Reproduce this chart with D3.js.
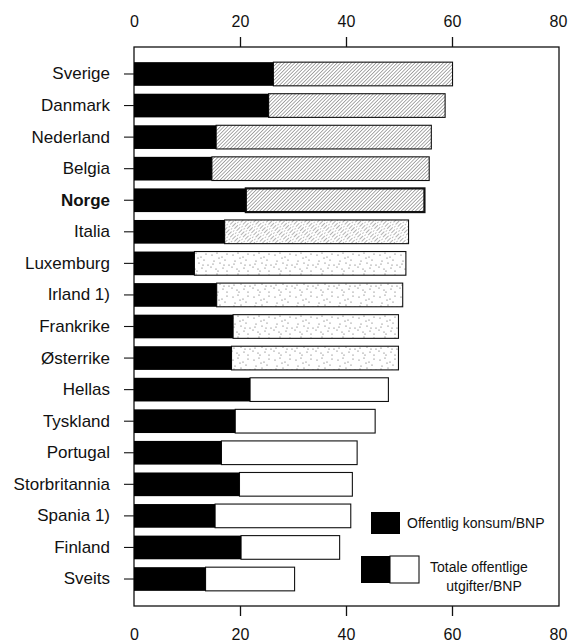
<!DOCTYPE html>
<html>
<head>
<meta charset="utf-8">
<script src="https://cdn.jsdelivr.net/npm/d3@7"></script>
<style>
  html, body { margin: 0; padding: 0; background: #fff; }
  svg { display: block; }
  text { font-family: "Liberation Sans", Arial, Helvetica, sans-serif; fill: #111; }
</style>
</head>
<body>
<svg id="chart" width="571" height="643"></svg>
<script>
// ---- data ----
const countries = ["Sverige","Danmark","Nederland","Belgia","Norge","Italia","Luxemburg","Irland 1)","Frankrike","Østerrike","Hellas","Tyskland","Portugal","Storbritannia","Spania 1)","Finland","Sveits"];
const konsum  = [26.3, 25.4, 15.5, 14.7, 21.1, 17.1, 11.4, 15.6, 18.7, 18.4, 21.9, 19.1, 16.5, 19.9, 15.3, 20.2, 13.5];
const totale  = [60.1, 58.7, 56.1, 55.7, 54.8, 51.8, 51.3, 50.7, 49.9, 49.9, 48.0, 45.5, 42.1, 41.2, 40.9, 38.8, 30.3];
const xTicks  = [0, 20, 40, 60, 80];
const legendLabels = ["Offentlig konsum/BNP", ["Totale offentlige", "utgifter/BNP"]];
const highlight = "Norge";

// ---- layout ----
const svg = d3.select("#chart");
const mLeft = 134, mRight = 558, mTop = 47, mBottom = 606;

const x = d3.scaleLinear().domain([0, 80]).range([mLeft, mRight]);
const y = d3.scaleBand().domain(countries).range([mTop, mBottom]).paddingInner(0.25).paddingOuter(0.48);

// ---- patterns ----
const defs = svg.append("defs");
const hs = 2.5;
const hatch = defs.append("pattern").attr("id", "hatch").attr("patternUnits", "userSpaceOnUse")
  .attr("width", hs).attr("height", hs).attr("patternTransform", "rotate(45)");
hatch.append("rect").attr("width", hs).attr("height", hs).attr("fill", "#fff");
hatch.append("line").attr("x1", 0).attr("y1", 0).attr("x2", 0).attr("y2", hs)
  .attr("stroke", "#444").attr("stroke-width", 0.9);

const dotPos = [[2,3],[7,1],[12,5],[17,2],[4,9],[10,11],[15,8],[19,13],[1,15],[6,17],[13,16],[17,19],[9,6],[3,12],[14,13],[8,19]];
const dots = defs.append("pattern").attr("id", "dots").attr("patternUnits", "userSpaceOnUse")
  .attr("width", 21).attr("height", 21);
dots.append("rect").attr("width", 21).attr("height", 21).attr("fill", "#fff");
dots.selectAll("circle").data(dotPos).join("circle")
  .attr("cx", d => d[0]).attr("cy", d => d[1]).attr("r", 0.6).attr("fill", "#555");

const mix = defs.append("pattern").attr("id", "mix").attr("patternUnits", "userSpaceOnUse")
  .attr("width", 3).attr("height", 9).attr("patternTransform", "rotate(45)");
mix.append("rect").attr("width", 3).attr("height", 9).attr("fill", "#fff");
mix.append("line").attr("x1", 0).attr("y1", 0).attr("x2", 0).attr("y2", 5)
  .attr("stroke", "#555").attr("stroke-width", 0.9);
mix.append("circle").attr("cx", 1.5).attr("cy", 7).attr("r", 0.5).attr("fill", "#666");

function fillFor(i) {
  if (i < 5) return "url(#hatch)";
  if (i === 5) return "url(#mix)";
  if (i < 10) return "url(#dots)";
  return "#fff";
}

// ---- frame ----
svg.append("rect").attr("x", mLeft).attr("y", mTop).attr("width", mRight + 1 - mLeft).attr("height", mBottom - mTop)
  .attr("fill", "none").attr("stroke", "#111").attr("stroke-width", 1.3);

// ---- bars ----
const rows = countries.map((c, i) => ({c, i, k: konsum[i], t: totale[i]}));
const g = svg.append("g");
g.selectAll("rect.tot").data(rows).join("rect").attr("class", "tot")
  .attr("x", d => x(d.k)).attr("y", d => y(d.c))
  .attr("width", d => x(d.t) - x(d.k)).attr("height", y.bandwidth())
  .attr("fill", d => fillFor(d.i)).attr("stroke", "#111")
  .attr("stroke-width", d => d.c === highlight ? 2.2 : 1.1);
g.selectAll("rect.kon").data(rows).join("rect").attr("class", "kon")
  .attr("x", x(0)).attr("y", d => y(d.c))
  .attr("width", d => x(d.k) - x(0)).attr("height", y.bandwidth())
  .attr("fill", "#000");

// ---- axes ----
const axTop = d3.axisTop(x).tickValues(xTicks).tickSize(10).tickPadding(10).tickFormat(d3.format("d"));
const axBot = d3.axisBottom(x).tickValues(xTicks).tickSize(10).tickPadding(13).tickFormat(d3.format("d"));
function styleX(sel) {
  sel.select(".domain").remove();
  sel.selectAll(".tick line").attr("stroke", "#111").attr("stroke-width", 1.3)
    .attr("opacity", d => (d === 0 || d === 80) ? 0 : 1);
  sel.selectAll(".tick text").attr("font-size", 16).attr("fill", "#111")
    .attr("font-family", "'Liberation Sans', Arial, sans-serif");
}
svg.append("g").attr("transform", `translate(0,${mTop})`).call(axTop).call(styleX);
svg.append("g").attr("transform", `translate(0,${mBottom})`).call(axBot).call(styleX);

const axLeft = d3.axisLeft(y).tickSize(10).tickPadding(14);
const gl = svg.append("g").attr("transform", `translate(${mLeft},0)`).call(axLeft);
gl.select(".domain").remove();
gl.selectAll(".tick line").attr("stroke", "#111").attr("stroke-width", 1.1);
gl.selectAll(".tick text").attr("font-size", 17).attr("fill", "#111")
  .attr("font-family", "'Liberation Sans', Arial, sans-serif")
  .attr("font-weight", d => d === highlight ? "bold" : "normal");

// ---- legend ----
const lg = svg.append("g");
lg.append("rect").attr("x", 371).attr("y", 512).attr("width", 29).attr("height", 22).attr("fill", "#000");
lg.append("text").attr("x", 407).attr("y", 528).attr("font-size", 14).text(legendLabels[0]);
lg.append("rect").attr("x", 390).attr("y", 556).attr("width", 29).attr("height", 27)
  .attr("fill", "#fff").attr("stroke", "#111").attr("stroke-width", 1.1);
lg.append("rect").attr("x", 361).attr("y", 556).attr("width", 29).attr("height", 27).attr("fill", "#000");
lg.append("text").attr("x", 479).attr("y", 572).attr("font-size", 14).attr("text-anchor", "middle").text(legendLabels[1][0]);
lg.append("text").attr("x", 484).attr("y", 591).attr("font-size", 14).attr("text-anchor", "middle").text(legendLabels[1][1]);
</script>
</body>
</html>
